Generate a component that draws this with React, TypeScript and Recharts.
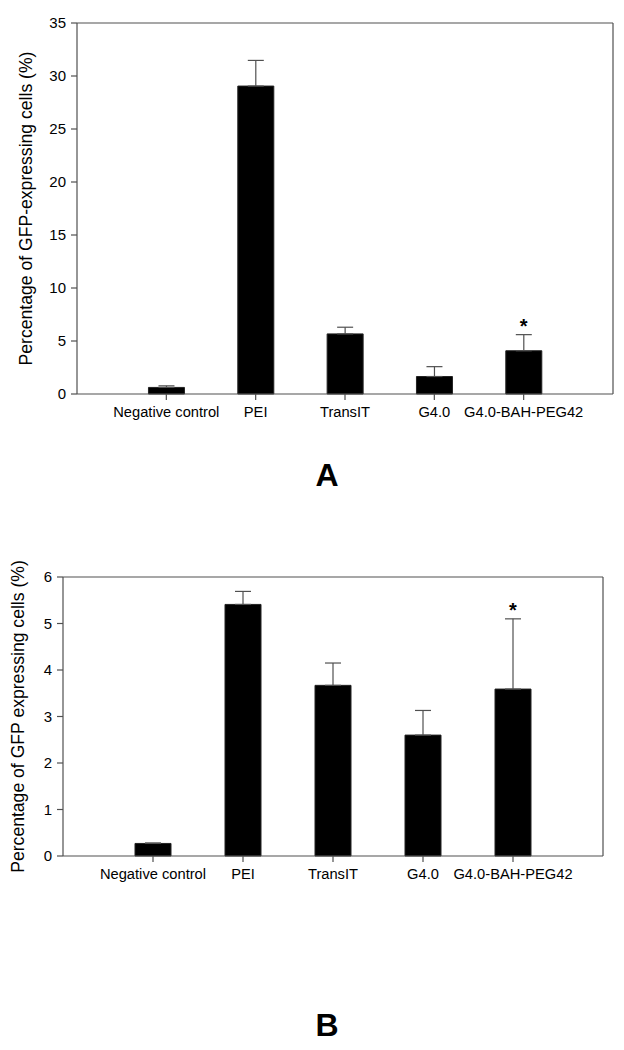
import React from "react";
import {
  BarChart,
  Bar,
  XAxis,
  YAxis,
  ErrorBar,
  ReferenceDot,
  CartesianGrid,
} from "recharts";

const categories = ["Negative control", "PEI", "TransIT", "G4.0", "G4.0-BAH-PEG42"];

const valuesA = [0.62, 29.05, 5.67, 1.65, 4.08];
const errorsA = [0.15, 2.42, 0.63, 0.93, 1.52];
const ticksA = [0, 5, 10, 15, 20, 25, 30, 35];

const valuesB = [0.27, 5.41, 3.67, 2.6, 3.59];
const errorsB = [0.01, 0.28, 0.48, 0.53, 1.51];
const ticksB = [0, 1, 2, 3, 4, 5, 6];

// which bars carry a significance star
const starred = [false, false, false, false, true];

const FONT = "'Liberation Sans', Arial, sans-serif";
const AXIS = "#505050";

interface PanelProps {
  values: number[];
  errors: number[];
  ticks: number[];
  yLabel: string;
  width: number;
  height: number;
  left: number;
  right: number;
  top: number;
  xAxisHeight: number;
  labelDx: number;
}

const Panel: React.FC<PanelProps> = ({
  values,
  errors,
  ticks,
  yLabel,
  width,
  height,
  left,
  right,
  top,
  xAxisHeight,
  labelDx,
}) => {
  const data = categories.map((name, i) => ({
    name,
    value: values[i],
    err: [0, errors[i]],
  }));
  const plotW = width - left - right;
  const pad = plotW / 12;
  const max = ticks[ticks.length - 1];

  return (
    <BarChart
      width={width}
      height={height}
      data={data}
      margin={{ top, right, left: 0, bottom: 0 }}
      barCategoryGap="30%"
      style={{ fontFamily: FONT }}
    >
      {/* top and right edges of the frame */}
      <CartesianGrid
        stroke={AXIS}
        strokeWidth={1.2}
        horizontalCoordinatesGenerator={({ offset }: any) => [offset.top]}
        verticalCoordinatesGenerator={({ offset }: any) => [offset.left + offset.width]}
      />
      <XAxis
        dataKey="name"
        height={xAxisHeight}
        padding={{ left: pad, right: pad }}
        interval={0}
        stroke={AXIS}
        strokeWidth={1.2}
        tickSize={6}
        tickMargin={7}
        tick={{ fill: "#000", fontSize: 14.7 }}
      />
      <YAxis
        width={left}
        domain={[0, max]}
        ticks={ticks}
        interval={0}
        stroke={AXIS}
        strokeWidth={1.2}
        tickSize={6}
        tickMargin={5}
        tick={{ fill: "#000", fontSize: 15 }}
        label={{
          value: yLabel,
          angle: -90,
          position: "center",
          dx: labelDx,
          style: { fontSize: 17.6, fill: "#000", fontFamily: FONT },
        }}
      />
      <Bar dataKey="value" fill="#000" stroke="#222" isAnimationActive={false}>
        <ErrorBar dataKey="err" width={8} stroke={AXIS} strokeWidth={1.2} direction="y" />
      </Bar>
      {data.map((d, i) =>
        starred[i] ? (
          <ReferenceDot
            key={d.name}
            x={d.name}
            y={values[i] + errors[i]}
            r={0}
            stroke="none"
            fill="none"
            ifOverflow="visible"
            label={{
              value: "*",
              position: "top",
              offset: 2,
              style: { fontSize: 20, fontWeight: "bold", fill: "#000", fontFamily: FONT },
            }}
          />
        ) : null
      )}
    </BarChart>
  );
};

const App: React.FC = () => {
  return (
    <div
      style={{
        position: "absolute",
        top: 0,
        left: 0,
        width: 624,
        height: 1050,
        background: "#fff",
        fontFamily: FONT,
      }}
    >
      <div style={{ position: "absolute", top: 0, left: 0 }}>
        <Panel
          values={valuesA}
          errors={errorsA}
          ticks={ticksA}
          yLabel="Percentage of GFP-expressing cells (%)"
          width={624}
          height={430}
          left={77}
          right={11}
          top={23}
          xAxisHeight={36}
          labelDx={-13}
        />
      </div>
      <div
        style={{
          position: "absolute",
          top: 456,
          left: 0,
          width: 624,
          textAlign: "center",
          fontSize: 32,
          fontWeight: "bold",
          lineHeight: "38px",
          paddingLeft: 30,
          boxSizing: "border-box",
        }}
      >
        A
      </div>
      <div style={{ position: "absolute", top: 540, left: 0 }}>
        <Panel
          values={valuesB}
          errors={errorsB}
          ticks={ticksB}
          yLabel="Percentage of GFP expressing cells (%)"
          width={624}
          height={350}
          left={63}
          right={21}
          top={37}
          xAxisHeight={34}
          labelDx={-14}
        />
      </div>
      <div
        style={{
          position: "absolute",
          top: 1006,
          left: 0,
          width: 624,
          textAlign: "center",
          fontSize: 32,
          fontWeight: "bold",
          lineHeight: "38px",
          paddingLeft: 30,
          boxSizing: "border-box",
        }}
      >
        B
      </div>
    </div>
  );
};

export default App;
